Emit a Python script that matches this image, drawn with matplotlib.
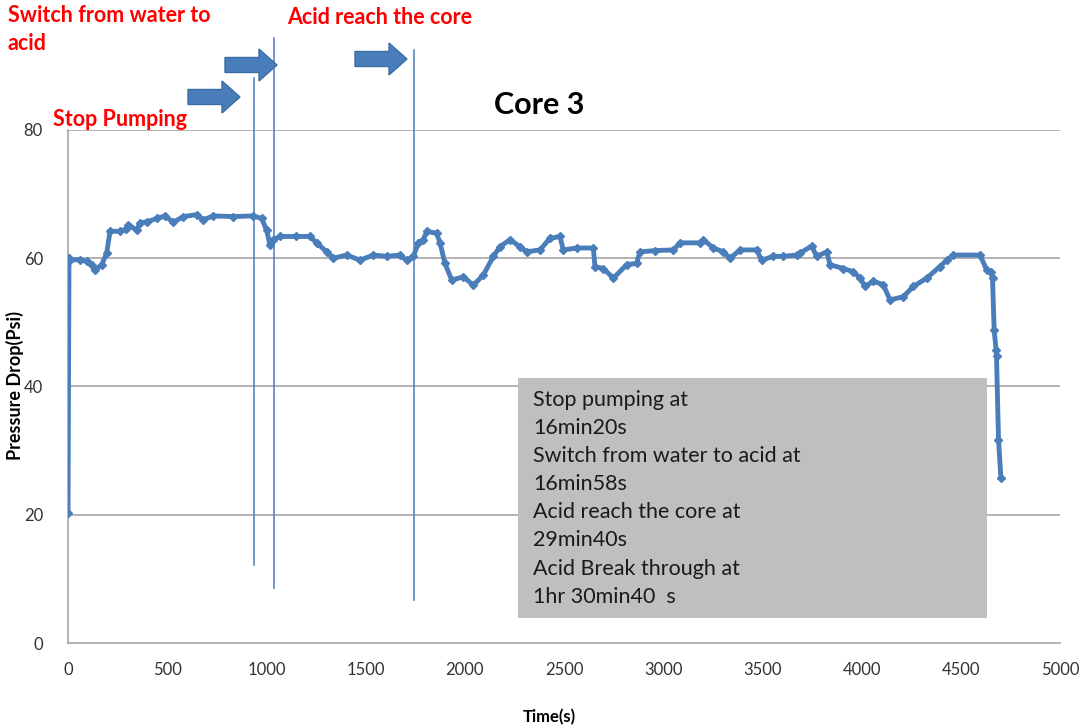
import matplotlib.pyplot as plt
from matplotlib.patches import FancyArrow, Rectangle

# pressure drop record (time in s, pressure in psi)
time_s = [0, 5, 10, 60, 94, 120, 136, 170, 195, 212,
          262, 290, 304, 346, 363, 400, 447, 489, 531, 581,
          649, 682, 732, 833, 934, 976, 1001, 1018, 1035, 1068,
          1150, 1220, 1253, 1304, 1337, 1405, 1472, 1539, 1606, 1673,
          1707, 1741, 1766, 1791, 1808, 1858, 1875, 1900, 1934, 1993,
          2043, 2094, 2144, 2177, 2228, 2278, 2312, 2379, 2429, 2480,
          2496, 2564, 2648, 2656, 2698, 2749, 2816, 2866, 2883, 2960,
          3051, 3085, 3185, 3202, 3253, 3303, 3337, 3387, 3471, 3496,
          3555, 3605, 3673, 3690, 3748, 3774, 3824, 3841, 3908, 3958,
          3992, 4017, 4059, 4109, 4143, 4210, 4261, 4328, 4395, 4429,
          4462, 4597, 4630, 4650, 4660, 4668, 4678, 4680, 4690, 4702]
pressure = [20.3, 60.0, 59.7, 59.8, 59.5, 59.0, 58.1, 59.0, 60.8, 64.2,
            64.2, 64.5, 65.2, 64.4, 65.5, 65.7, 66.2, 66.6, 65.6, 66.5,
            66.8, 66.0, 66.6, 66.5, 66.6, 66.2, 64.4, 62.1, 62.9, 63.4,
            63.4, 63.4, 62.4, 61.0, 60.0, 60.5, 59.7, 60.5, 60.3, 60.5,
            59.7, 60.3, 62.4, 62.9, 64.2, 63.9, 62.4, 59.2, 56.6, 57.1,
            55.8, 57.4, 60.3, 61.8, 62.9, 61.8, 61.0, 61.3, 63.1, 63.4,
            61.3, 61.6, 61.6, 58.7, 58.4, 56.9, 59.0, 59.2, 61.0, 61.2,
            61.3, 62.4, 62.4, 62.9, 61.6, 61.0, 60.0, 61.3, 61.3, 59.7,
            60.3, 60.3, 60.5, 60.8, 61.9, 60.3, 61.0, 59.0, 58.4, 57.9,
            56.9, 55.6, 56.4, 55.9, 53.5, 54.0, 55.6, 56.9, 58.7, 59.7,
            60.5, 60.5, 58.2, 57.9, 56.9, 48.8, 45.7, 44.7, 31.7, 25.8]

# event markers drawn as vertical lines (x position, bottom, top)
event_t = [940, 1038, 1744]
event_bottom = [12.2, 8.6, 6.7]
event_top = [88.1, 94.4, 92.5]

note_lines = ["Stop pumping at", "16min20s", "Switch from water to acid at",
              "16min58s", "Acid reach the core at", "29min40s",
              "Acid Break through at", "1hr 30min40  s"]

blue = '#4a7ebb'
grid = '#a6a6a6'
plt.rcParams['font.family'] = ['Lato', 'DejaVu Sans']

fig = plt.figure(figsize=(10.85, 7.28), dpi=100)
ax = fig.add_axes([68 / 1085, 85 / 728, 992 / 1085, 513 / 728])

ax.plot(time_s, pressure, color=blue, lw=3.5, marker='D', ms=4,
        solid_joinstyle='round', zorder=3)
for t, b, top in zip(event_t, event_bottom, event_top):
    ax.plot([t, t], [b, top], color=blue, lw=1.1, clip_on=False, zorder=4)

ax.set_xlim(0, 5000)
ax.set_ylim(0, 80)
ax.set_xticks(range(0, 5001, 500))
ax.set_yticks(range(0, 81, 20))
for y in range(20, 81, 20):
    ax.axhline(y, color=grid, lw=1.2, zorder=1)
for s in ['top', 'right']:
    ax.spines[s].set_visible(False)
for s in ['left', 'bottom']:
    ax.spines[s].set_color(grid)
    ax.spines[s].set_linewidth(1.2)
ax.tick_params(length=0, labelsize=12, colors='#333333')
ax.tick_params(axis='x', pad=14)
ax.tick_params(axis='y', pad=18)

fig.text(549 / 1085, 1 - 717 / 728, 'Time(s)', fontsize=12,
         fontweight='bold', ha='center', va='center')
fig.text(15 / 1085, 1 - 386 / 728, 'Pressure Drop(Psi)', fontsize=13,
         fontweight='bold', ha='center', va='center', rotation=90)

# overlay in pixel coordinates for annotations
ov = fig.add_axes([0, 0, 1, 1], zorder=5)
ov.set_xlim(0, 1085)
ov.set_ylim(728, 0)
ov.axis('off')

for x0, yc in [(188, 97), (225, 65), (355, 59)]:
    ov.add_patch(FancyArrow(x0, yc, 52, 0, width=15, head_width=32,
                            head_length=18, length_includes_head=True,
                            fc=blue, ec='#3a6ea5', lw=1))

red = '#ff0000'
ov.text(8, 16, 'Switch from water to', color=red, fontsize=15.5,
        fontweight='bold', va='center', ha='left')
ov.text(8, 43, 'acid', color=red, fontsize=15.5,
        fontweight='bold', va='center', ha='left')
ov.text(287, 17, 'Acid reach the core', color=red, fontsize=15.5,
        fontweight='bold', va='center', ha='left')
ov.text(53, 119, 'Stop Pumping', color=red, fontsize=15.5,
        fontweight='bold', va='center', ha='left')
ov.text(539, 105, 'Core 3', color='black', fontsize=22,
        fontweight='bold', va='center', ha='center')

ov.add_patch(Rectangle((518, 378), 469, 240, fc='#bfbfbf', ec='none'))
for i, line in enumerate(note_lines):
    ov.text(533, 400 + i * 28.1, line, fontsize=15.5, color='#1a1a1a',
            va='center', ha='left')

fig.savefig('out.png', dpi=100)
